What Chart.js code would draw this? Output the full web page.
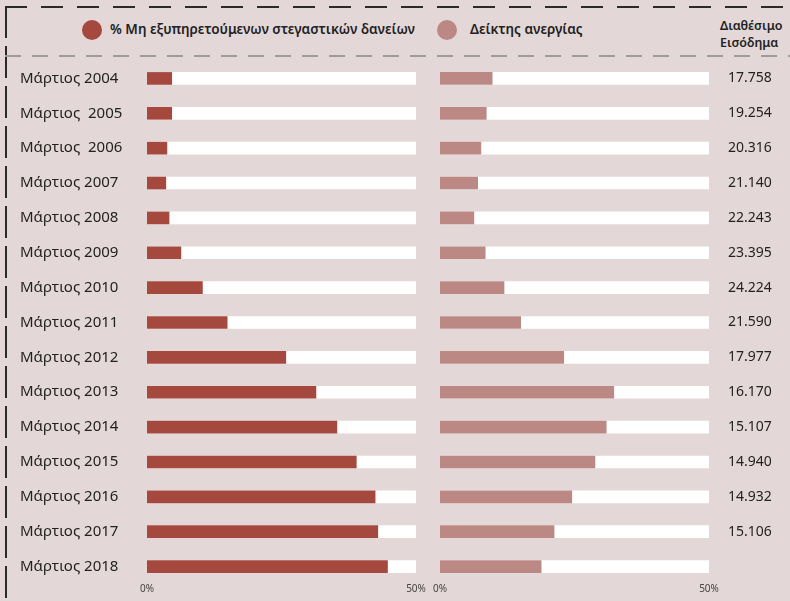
<!DOCTYPE html>
<html>
<head>
<meta charset="utf-8">
<script src="https://cdn.jsdelivr.net/npm/chart.js@4"></script>
<style>
  body { margin: 0; width: 790px; height: 601px; background: #e4d7d7; position: relative; overflow: hidden;
         font-family: "Noto Sans", sans-serif; color: #222; }
  .top-line { position: absolute; left: 5px; right: 0; top: 6px; height: 2px;
              background: repeating-linear-gradient(90deg, #2a2a2a 0 22px, transparent 22px 36px); }
  .left-line { position: absolute; left: 5px; top: 6px; bottom: 0; width: 2px;
               background: repeating-linear-gradient(180deg, #2a2a2a 0 32px, transparent 32px 40px); }
  .mid-line { position: absolute; left: 5px; right: 0; top: 55px; height: 2px;
              background: repeating-linear-gradient(90deg, #9c9c9c 0 16px, transparent 16px 27px); }
  .dot { position: absolute; top: 20px; width: 20px; height: 20px; border-radius: 50%; }
  .legend-text { position: absolute; top: 20px; font-size: 13.5px; font-weight: 600; }
  .income-head { position: absolute; left: 720px; top: 17px; font-size: 12.5px; font-weight: 600; line-height: 17px; }
  canvas { position: absolute; top: 0; }
</style>
</head>
<body>
<div class="top-line"></div>
<div class="left-line"></div>
<div class="mid-line"></div>
<div class="dot" style="left:82px;background:#a5483e"></div>
<div class="legend-text" style="left:110px">% Μη εξυπηρετούμενων στεγαστικών δανείων</div>
<div class="dot" style="left:437px;background:#bc8884"></div>
<div class="legend-text" style="left:470px">Δείκτης ανεργίας</div>
<div class="income-head">Διαθέσιμο<br>Εισόδημα</div>

<div style="position:absolute;left:0;top:0;width:430px;height:601px"><canvas id="nplChart"></canvas></div>
<div style="position:absolute;left:430px;top:0;width:360px;height:601px"><canvas id="jobsChart"></canvas></div>

<script>
const months = ['Μάρτιος 2004', 'Μάρτιος  2005', 'Μάρτιος  2006', 'Μάρτιος 2007', 'Μάρτιος 2008',
    'Μάρτιος 2009', 'Μάρτιος 2010', 'Μάρτιος 2011', 'Μάρτιος 2012', 'Μάρτιος 2013',
    'Μάρτιος 2014', 'Μάρτιος 2015', 'Μάρτιος 2016', 'Μάρτιος 2017', 'Μάρτιος 2018'];
const nplPct = [4.6, 4.6, 3.7, 3.5, 4.1, 6.3, 10.3, 14.9, 25.8, 31.4, 35.3, 38.9, 42.4, 42.9, 44.7];
const unemploymentPct = [9.7, 8.6, 7.6, 7.0, 6.3, 8.4, 11.9, 15.0, 23.0, 32.3, 30.9, 28.8, 24.5, 21.2, 18.8];
const income = ['17.758', '19.254', '20.316', '21.140', '22.243', '23.395', '24.224', '21.590',
    '17.977', '16.170', '15.107', '14.940', '14.932', '15.106', ''];
const xTicks = [0, 50];
const xMax = 50;

const track = months.map(() => xMax);

function xScale() {
    return {
        min: 0,
        max: xMax,
        grid: { display: false },
        border: { display: false },
        afterBuildTicks: axis => { axis.ticks = xTicks.map(v => ({ value: v })); },
        afterFit: axis => { axis.height = 17; axis.paddingLeft = 0; axis.paddingRight = 0; },
        ticks: {
            padding: -9,
            maxRotation: 0,
            color: '#444',
            font: { family: 'Noto Sans', size: 10 },
            callback: v => v + '%'
        }
    };
}

function barSets(values, color) {
    return [
        { data: values, backgroundColor: color, barThickness: 12, order: 0 },
        { data: track, backgroundColor: '#ffffff', barThickness: 12, order: 1 }
    ];
}

const base = {
    indexAxis: 'y',
    responsive: true,
    maintainAspectRatio: false,
    animation: false,
    datasets: { bar: { grouped: false } },
    plugins: { legend: { display: false }, tooltip: { enabled: false } }
};

function yFit(width) {
    return axis => { axis.width = width; axis.paddingTop = 0; axis.paddingBottom = 0; };
}

new Chart(document.getElementById('nplChart'), {
    type: 'bar',
    data: { labels: months, datasets: barSets(nplPct, '#a5483e') },
    options: {
        ...base,
        layout: { padding: { top: 61, left: 20, right: 14, bottom: 0 } },
        scales: {
            x: xScale(),
            y: {
                grid: { display: false },
                border: { display: false },
                afterFit: yFit(127),
                ticks: { crossAlign: 'far', color: '#222', font: { family: 'Noto Sans', size: 15 } }
            }
        }
    }
});

new Chart(document.getElementById('jobsChart'), {
    type: 'bar',
    data: { labels: months, datasets: barSets(unemploymentPct, '#bc8884') },
    options: {
        ...base,
        layout: { padding: { top: 61, left: 10, right: 0, bottom: 0 } },
        scales: {
            x: xScale(),
            y: {
                position: 'right',
                grid: { display: false },
                border: { display: false },
                afterFit: yFit(81),
                ticks: {
                    padding: 11,
                    color: '#222',
                    font: { family: 'Noto Sans', size: 14 },
                    callback: (v, i) => income[i]
                }
            }
        }
    }
});
</script>
</body>
</html>
